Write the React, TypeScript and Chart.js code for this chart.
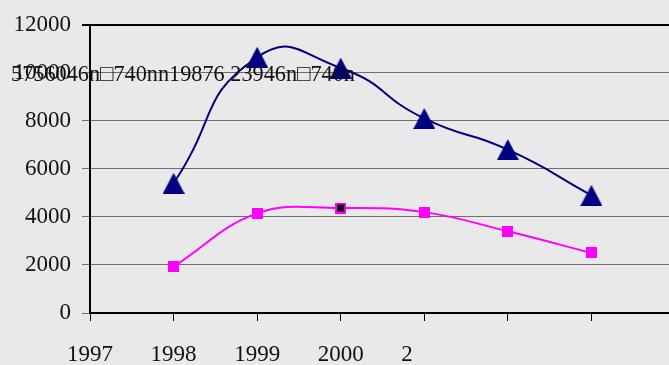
import React, { useEffect, useRef } from 'react';
import { Chart, registerables } from 'chart.js';

Chart.register(...registerables);

const categories = ['1997', '1998', '1999', '2000', '2001', '2002', '2003', '2004'];
const xTickLabels = ['1997', '1998', '1999', '2000', '2      ', '', '', ''];
const seriesNavy = [null, 5400, 10650, 10200, 8100, 6800, 4900, null];
const seriesMagenta = [null, 1930, 4150, 4370, 4200, 3400, 2500, null];
const yMin = 0;
const yMax = 12000;
const yStep = 2000;
const overlayText = '5756046n\u25A1740nn19876 23946n\u25A1740n';
const overlayValue = 10000;

const FONT = '"Liberation Serif", "Times New Roman", serif';

function makeTriangle(w: number, h: number, color: string) {
  const c = document.createElement('canvas');
  c.width = w;
  c.height = h;
  const g = c.getContext('2d')!;
  g.fillStyle = color;
  g.beginPath();
  g.moveTo(w / 2, 0);
  g.lineTo(w, h);
  g.lineTo(0, h);
  g.closePath();
  g.fill();
  return c;
}

function makeSquare(s: number, color: string, inner?: string) {
  const c = document.createElement('canvas');
  c.width = s;
  c.height = s;
  const g = c.getContext('2d')!;
  g.fillStyle = color;
  g.fillRect(0, 0, s, s);
  if (inner) {
    g.fillStyle = inner;
    g.fillRect(2, 2, s - 4, s - 4);
  }
  return c;
}

export default function App() {
  const ref = useRef<HTMLCanvasElement>(null);

  useEffect(() => {
    document.body.style.margin = '0';
    document.body.style.overflow = 'hidden';
    const tri = makeTriangle(22, 21, '#000080');
    const sq = makeSquare(11, '#ff00ff');
    const sqSel = makeSquare(11, '#ff00ff', '#000000');

    const bgPlugin = {
      id: 'bg',
      beforeDraw(chart: any) {
        const { ctx, width, height } = chart;
        ctx.save();
        ctx.fillStyle = '#e9e9e9';
        ctx.fillRect(0, 0, width, height);
        ctx.restore();
      },
    };

    const overlayPlugin = {
      id: 'overlayText',
      afterDraw(chart: any) {
        const { ctx, scales } = chart;
        const y = scales.y.getPixelForValue(overlayValue) + 2;
        ctx.save();
        ctx.font = '23px ' + FONT;
        ctx.fillStyle = '#111';
        ctx.textBaseline = 'middle';
        ctx.textAlign = 'left';
        const w = ctx.measureText(overlayText).width;
        ctx.translate(11, y);
        ctx.scale(344 / w, 1);
        ctx.fillText(overlayText, 0, 0);
        ctx.restore();
      },
    };

    const chart = new Chart(ref.current!, {
      type: 'line',
      data: {
        labels: categories,
        datasets: [
          {
            data: seriesNavy,
            borderColor: '#000080',
            borderWidth: 2,
            tension: 0.55,
            fill: false,
            pointStyle: tri as any,
            pointRadius: 10,
          },
          {
            data: seriesMagenta,
            borderColor: '#ff00ff',
            borderWidth: 2,
            tension: 0.4,
            fill: false,
            pointStyle: ((c: any) => (c.dataIndex === 3 ? sqSel : sq)) as any,
            pointRadius: 6,
          },
        ],
      },
      options: {
        animation: false,
        responsive: false,
        devicePixelRatio: 1,
        layout: { padding: { top: 20, left: 0, right: 0, bottom: 0 } },
        plugins: { legend: { display: false }, tooltip: { enabled: false } },
        scales: {
          x: {
            type: 'category',
            offset: false,
            ticks: {
              autoSkip: false,
              maxRotation: 0,
              minRotation: 0,
              padding: 20,
              color: '#111',
              font: { family: FONT, size: 23 },
              callback: (_v: any, i: number) => xTickLabels[i],
            },
            grid: { drawOnChartArea: false, drawTicks: true, tickLength: 8, color: '#000', lineWidth: 1 },
            border: { display: true, color: '#000', width: 2 },
            afterFit: (s: any) => {
              s.height = 52;
            },
          },
          y: {
            min: yMin,
            max: yMax,
            ticks: {
              stepSize: yStep,
              padding: 11,
              color: '#111',
              font: { family: FONT, size: 23 },
              callback: (v: any) => String(v),
            },
            grid: {
              color: (c: any) => (c.tick && c.tick.value === yMax ? '#000' : '#6e6e6e'),
              lineWidth: (c: any) => (c.tick && c.tick.value === yMax ? 2 : 1),
              tickLength: 8,
              drawTicks: true,
            },
            border: { display: true, color: '#000', width: 2 },
            afterFit: (s: any) => {
              s.width = 90;
            },
          },
        },
      },
      plugins: [bgPlugin, overlayPlugin],
    });
    return () => chart.destroy();
  }, []);

  return (
    <div style={{ position: 'fixed', left: 0, top: 0, width: 695, height: 365 }}>
      <canvas ref={ref} width={695} height={365} style={{ display: 'block', width: 695, height: 365 }} />
    </div>
  );
}
